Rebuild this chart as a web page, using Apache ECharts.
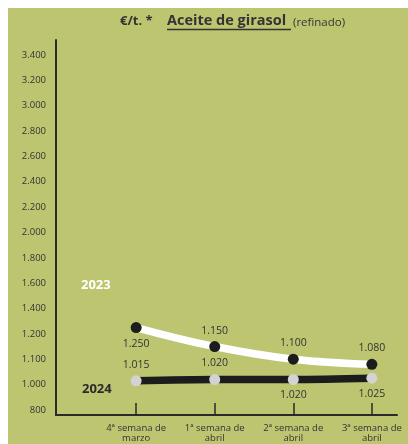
<!DOCTYPE html>
<html>
<head>
<meta charset="utf-8">
<script src="https://cdn.jsdelivr.net/npm/echarts@6/dist/echarts.min.js"></script>
<style>
html,body{margin:0;padding:0;background:#fff;}
#wrap{position:absolute;left:8px;top:8px;width:400px;height:436px;background:#bec571;}
#c{position:absolute;left:0;top:0;width:408px;height:444px;}
</style>
</head>
<body>
<div id="wrap"></div>
<div id="c"></div>
<script>
const categories = ['4ª semana de\nmarzo', '1ª semana de\nabril', '2ª semana de\nabril', '3ª semana de\nabril'];
const values2023 = [1250, 1150, 1100, 1080];
const values2024 = [1015, 1020, 1020, 1025];
const tickValues = [800, 1000, 1100, 1200, 1400, 1600, 1800, 2000, 2200, 2400, 2600, 2800, 3000, 3200, 3400];
const labelPos2023 = ['bottom', 'top', 'top', 'top'];
const labelPos2024 = ['top', 'top', 'bottom', 'bottom'];

function toIdx(v) {
  for (let i = 0; i < tickValues.length - 1; i++) {
    if (v >= tickValues[i] && v <= tickValues[i + 1]) {
      return i + (v - tickValues[i]) / (tickValues[i + 1] - tickValues[i]);
    }
  }
  return v < tickValues[0] ? 0 : tickValues.length - 1;
}
function fmt(v) {
  const s = String(v);
  return s.length > 3 ? s.slice(0, s.length - 3) + '.' + s.slice(-3) : s;
}

const FONT = '"Open Sans", "Noto Sans", sans-serif';
const chart = echarts.init(document.getElementById('c'), null, {renderer: 'canvas'});

function buildData(vals, pos) {
  return vals.map((v, i) => ({
    value: [i, toIdx(v)],
    raw: v,
    label: {position: pos[i]}
  }));
}

chart.setOption({
  animation: false,
  backgroundColor: 'transparent',
  grid: {left: 56, right: 11, top: 40, bottom: 29, containLabel: false},
  xAxis: {
    type: 'value',
    min: -1.02,
    max: 3.32,
    splitLine: {show: false},
    axisLine: {show: true, onZero: false, lineStyle: {color: '#2a2a2a', width: 2}},
    axisTick: {show: true, inside: true, length: 12, customValues: [0, 1, 2, 3], lineStyle: {color: '#2a2a2a', width: 1.5}},
    axisLabel: {
      customValues: [0, 1, 2, 3],
      formatter: v => categories[Math.round(v)] || '',
      color: '#333', fontFamily: FONT, fontSize: 9.5, lineHeight: 10, margin: 8
    }
  },
  yAxis: {
    type: 'value',
    min: -0.2,
    max: 14.59,
    splitLine: {show: false},
    axisLine: {show: true, onZero: false, lineStyle: {color: '#2a2a2a', width: 2}},
    axisTick: {show: false},
    axisLabel: {
      customValues: tickValues.map((t, i) => i),
      formatter: v => fmt(tickValues[Math.round(v)]),
      color: '#333', fontFamily: FONT, fontSize: 9.5, margin: 10
    }
  },
  series: [
    {
      name: '2024',
      type: 'line',
      smooth: 0.3,
      data: buildData(values2024, labelPos2024),
      lineStyle: {color: '#1c1c1c', width: 7.5, cap: 'round'},
      symbol: 'circle',
      symbolSize: 11,
      itemStyle: {color: '#d3d3d3'},
      label: {
        show: true, distance: 5,
        formatter: p => fmt(p.data.raw),
        color: '#333', fontFamily: FONT, fontSize: 10.5
      },
      z: 2
    },
    {
      name: '2023',
      type: 'line',
      smooth: 0.4,
      data: buildData(values2023, labelPos2023),
      lineStyle: {color: '#ffffff', width: 7.5, cap: 'round'},
      symbol: 'circle',
      symbolSize: 11,
      itemStyle: {color: '#1c1c1c'},
      label: {
        show: true, distance: 5,
        formatter: p => fmt(p.data.raw),
        color: '#333', fontFamily: FONT, fontSize: 10.5
      },
      z: 3
    }
  ],
  graphic: [
    {type: 'text', left: 120, top: 15, style: {text: '€/t. *', font: 'bold 13px ' + FONT, fill: '#333'}},
    {type: 'text', left: 167, top: 13, style: {text: 'Aceite de girasol', font: 'bold 14.5px ' + FONT, fill: '#333'}},
    {type: 'line', shape: {x1: 167, y1: 29.5, x2: 291, y2: 29.5}, style: {stroke: '#333', lineWidth: 1.5}},
    {type: 'text', left: 293, top: 17, style: {text: '(refinado)', font: '11.5px ' + FONT, fill: '#333'}},
    {type: 'text', left: 81, top: 279, style: {text: '2023', font: 'bold 13px ' + FONT, fill: '#ffffff'}},
    {type: 'text', left: 82, top: 383, style: {text: '2024', font: 'bold 13px ' + FONT, fill: '#2a2a2a'}}
  ]
});
</script>
</body>
</html>
